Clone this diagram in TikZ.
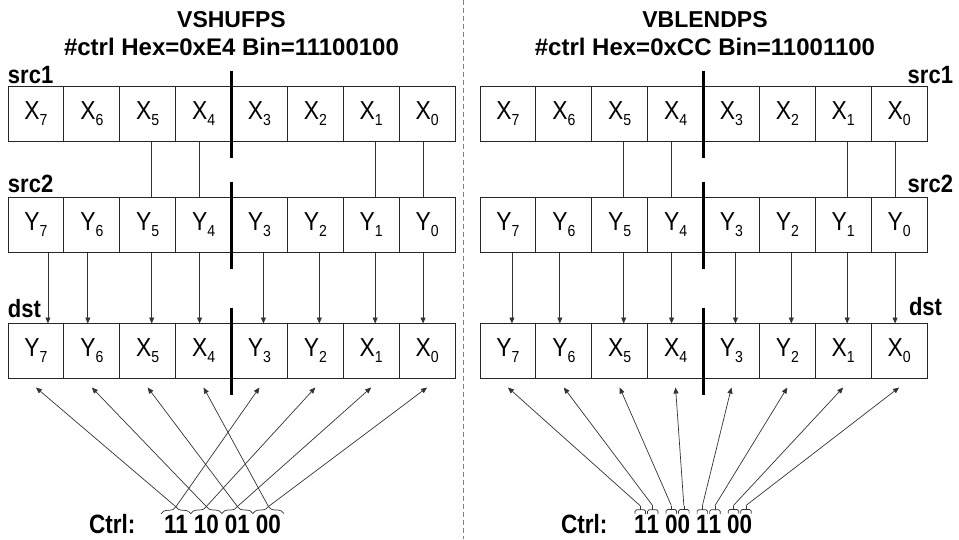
\documentclass[tikz,border=0pt]{standalone}
\usepackage{fontspec}
\setmainfont{Liberation Sans}
\newfontfamily\narrowsans{Liberation Sans}[FakeStretch=0.88]
\newfontfamily\bitsans{Liberation Sans}[FakeStretch=0.85]
\usetikzlibrary{arrows.meta,positioning,calc,decorations.pathreplacing}
\definecolor{lnGray}{HTML}{333333}
\definecolor{sepGray}{HTML}{808080}
\newcommand{\elem}[2]{{\narrowsans\fontsize{26}{26}\selectfont #1}\raisebox{-6pt}{\narrowsans\fontsize{16}{16}\selectfont #2}}
\tikzset{
  cellBox/.style={draw=black!85, line width=0.8pt, minimum width=55.875pt, minimum height=55pt, inner sep=0pt, outer sep=0pt},
  laneBar/.style={line width=3.5pt, draw=black},
  feedLine/.style={draw=lnGray, line width=0.7pt},
  feedArrow/.style={-{Triangle[length=6pt,width=5pt]}, draw=lnGray, line width=0.7pt},
  titleLabel/.style={font=\fontsize{#1}{#1}\selectfont\bfseries, inner sep=0pt, outer sep=0pt},
  boldLabel/.style={font=\narrowsans\fontsize{25}{25}\selectfont\bfseries, inner sep=0pt, outer sep=0pt},
  bitLabel/.style={font=\bitsans\fontsize{26.5}{26.5}\selectfont\bfseries, inner sep=0pt, outer sep=0pt},
  bitBrace/.style={decorate, decoration={brace, amplitude=#1}, draw=black!80, line width=0.7pt},
  bitCap/.style={draw=black!80, line width=0.7pt, rounded corners=1.5pt}
}

\begin{document}
\begin{tikzpicture}[x=1pt,y=-1pt]
  \useasboundingbox (0,0) rectangle (959,539);
  \draw[draw=sepGray, dash pattern=on 5pt off 3pt, line width=0.8pt] (463,0) -- (463,539);
  \foreach \pre/\ox/\dsev in {s/8/12,b/480/4} {
    \foreach \k in {0,...,7} {
      \node[cellBox] (\pre-A\k) at ({\ox+55.875*(7.5-\k)},114) {\elem{X}{\k}};
      \node[cellBox] (\pre-B\k) at ({\ox+55.875*(7.5-\k)},225) {\elem{Y}{\k}};
    }
    \foreach \k/\v in {7/Y,6/Y,5/X,4/X,3/Y,2/Y,1/X,0/X}
      \node[cellBox] (\pre-D\k) at ({\ox+55.875*(7.5-\k)},351) {\elem{\v}{\k}};
    \foreach \r in {A,B,D}
      \draw[laneBar] ([yshift=16pt]\pre-\r4.north east) -- ([yshift=-16pt]\pre-\r4.south east);
    \foreach \k/\dx in {5/4,4/-4,1/4,0/-4}
      \draw[feedLine] ([xshift=\dx pt]\pre-A\k.south) -- ([xshift=\dx pt]\pre-B\k.north);
    \foreach \k/\dx in {7/\dsev,6/-4,5/4,4/-4,3/4,2/4,1/4,0/-4}
      \draw[feedArrow] ([xshift=\dx pt]\pre-B\k.south) -- ([xshift=\dx pt]\pre-D\k.north);
  }

  \node[titleLabel=23, anchor=base] (s-title) at (231.5,27) {VSHUFPS};
  \node[titleLabel=24, anchor=base] (s-code) at (231.5,55) {\#ctrl Hex=0xE4 Bin=11100100};
  \node[titleLabel=23, anchor=base] (b-title) at (705,27) {VBLENDPS};
  \node[titleLabel=24, anchor=base] (b-code) at (705,55) {\#ctrl Hex=0xCC Bin=11001100};

  \node[boldLabel, anchor=base west] (s-src1) at (8,83) {src1};
  \node[boldLabel, anchor=base west] (s-src2) at (8,192) {src2};
  \node[boldLabel, anchor=base west] (s-dst) at (8,317) {dst};
  \node[boldLabel, anchor=base east] (b-src1) at (953,83) {src1};
  \node[boldLabel, anchor=base east] (b-src2) at (953,192) {src2};
  \node[boldLabel, anchor=base east] (b-dst) at (942,315) {dst};

  \node[bitLabel, anchor=base west] (s-ctrl) at (89,533) {Ctrl:};
  \node[bitLabel, anchor=base west] (s-C3) at (164,533) {11};
  \node[bitLabel, right=6pt of s-C3] (s-C2) {10};
  \node[bitLabel, right=6pt of s-C2] (s-C1) {01};
  \node[bitLabel, right=6pt of s-C1] (s-C0) {00};
  \foreach \c in {0,...,3} {
    \draw[bitBrace=7pt] ([xshift=-3pt,yshift=1pt]s-C\c.north west) -- ([xshift=3pt,yshift=1pt]s-C\c.north east);
    \coordinate (s-T\c) at ([yshift=8pt]s-C\c.north);
  }
  \foreach \c/\k in {3/7,2/6,1/5,0/4,3/3,2/2,1/1,0/0}
    \draw[feedArrow] (s-T\c) -- ([yshift=-9pt]s-D\k.south);

  \node[bitLabel, anchor=base west] (b-ctrl) at (561,533) {Ctrl:};
  \node[bitLabel, anchor=base west] (b-C7) at (634,533) {1};
  \node[bitLabel, right=0pt of b-C7] (b-C6) {1};
  \node[bitLabel, right=6pt of b-C6] (b-C5) {0};
  \node[bitLabel, right=0pt of b-C5] (b-C4) {0};
  \node[bitLabel, right=6pt of b-C4] (b-C3) {1};
  \node[bitLabel, right=0pt of b-C3] (b-C2) {1};
  \node[bitLabel, right=6pt of b-C2] (b-C1) {0};
  \node[bitLabel, right=0pt of b-C1] (b-C0) {0};
  \foreach \k in {0,...,7} {
    \draw[bitCap] ([xshift=1pt,yshift=1pt]b-C\k.north west) -- ([xshift=1pt,yshift=5pt]b-C\k.north west)
      -- ([xshift=-1pt,yshift=5pt]b-C\k.north east) -- ([xshift=-1pt,yshift=1pt]b-C\k.north east);
    \coordinate (b-T\k) at ([yshift=9pt]b-C\k.north);
    \draw[bitCap] ([yshift=5pt]b-C\k.north) -- (b-T\k);
    \draw[feedArrow] (b-T\k) -- ([yshift=-9pt]b-D\k.south);
  }
\end{tikzpicture}
\end{document}
